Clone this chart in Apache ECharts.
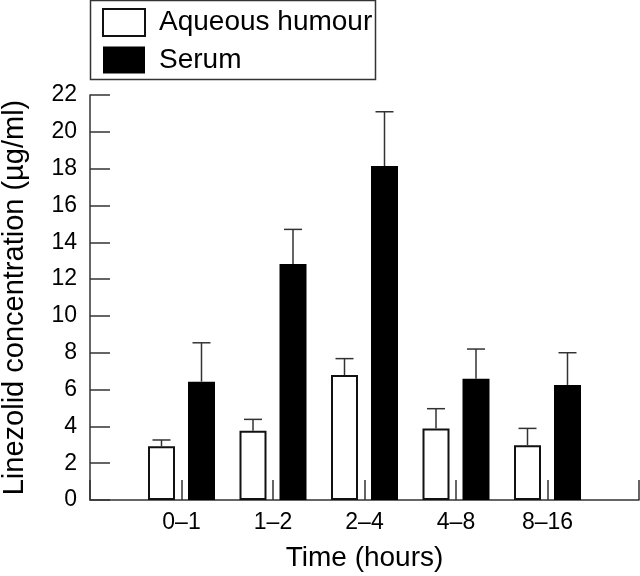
<!DOCTYPE html>
<html>
<head>
<meta charset="utf-8">
<script src="https://cdn.jsdelivr.net/npm/echarts@6/dist/echarts.min.js"></script>
<style>
  html, body { margin: 0; padding: 0; background: #fff; }
  #chart { width: 640px; height: 576px; }
</style>
</head>
<body>
<div id="chart"></div>
<script>
// time groups (empty ends give the axis its outer ticks)
const categories = ['', '0–1', '1–2', '2–4', '4–8', '8–16', ''];
const groups = ['0–1', '1–2', '2–4', '4–8', '8–16'];

// means and upper error (SD)
const aqueous = [2.92, 3.76, 6.79, 3.89, 2.97];
const aqueousSd = [0.34, 0.62, 0.89, 1.07, 0.92];
const serum = [6.43, 12.82, 18.14, 6.59, 6.25];
const serumSd = [2.11, 1.88, 2.95, 1.61, 1.75];

const yTicks = { min: 0, max: 22, interval: 2 };

const BAR_W = 27;
const BAR_GAP = 13;
const FONT = '"Liberation Sans", Arial, Helvetica, sans-serif';

const padded = (arr) => ['-', ...arr, '-'];

const errData = (means, sds) =>
  groups.map((g, i) => [i + 1, means[i], means[i] + sds[i]]);

const errSeries = (means, sds, side) => ({
  type: 'custom',
  z: 5,
  silent: true,
  data: errData(means, sds),
  renderItem: (params, api) => {
    const idx = api.value(0);
    const base = api.coord([idx, api.value(1)]);
    const top = api.coord([idx, api.value(2)]);
    const dx = side * (BAR_W + BAR_GAP) / 2;
    const x = base[0] + dx;
    const cap = 9;
    const style = { stroke: '#333', lineWidth: 1.5, fill: null };
    return {
      type: 'group',
      children: [
        { type: 'line', shape: { x1: x, y1: base[1], x2: x, y2: top[1] }, style },
        { type: 'line', shape: { x1: x - cap, y1: top[1], x2: x + cap, y2: top[1] }, style }
      ]
    };
  }
});

const chart = echarts.init(document.getElementById('chart'));
chart.setOption({
  backgroundColor: '#fff',
  animation: false,
  textStyle: { fontFamily: FONT, color: '#000' },
  grid: { left: 90, right: 1, top: 95, bottom: 76, outerBoundsMode: 'none', containLabel: false },
  legend: {
    orient: 'vertical',
    left: 102,
    top: 8,
    padding: 0,
    itemWidth: 42,
    itemHeight: 27,
    itemGap: 9,
    icon: 'rect',
    data: ['Aqueous humour', 'Serum'],
    textStyle: { fontSize: 28, color: '#000', fontFamily: FONT, padding: [0, 0, 0, 9] }
  },
  graphic: [{
    type: 'rect',
    shape: { x: 90.5, y: 0.5, width: 285, height: 79 },
    style: { fill: null, stroke: '#333', lineWidth: 1.5 },
    silent: true
  }],
  xAxis: {
    type: 'category',
    data: categories,
    boundaryGap: false,
    name: 'Time (hours)',
    nameLocation: 'middle',
    nameGap: 44,
    nameTextStyle: { fontSize: 28, color: '#000', fontFamily: FONT },
    axisLine: { lineStyle: { color: '#333', width: 1.5 } },
    axisTick: { inside: true, length: 20, lineStyle: { color: '#333', width: 1.5 } },
    axisLabel: { fontSize: 23, color: '#000', margin: 11, fontFamily: FONT },
    splitLine: { show: false }
  },
  yAxis: {
    type: 'value',
    min: yTicks.min,
    max: yTicks.max,
    interval: yTicks.interval,
    name: 'Linezolid concentration (µg/ml)',
    nameLocation: 'middle',
    nameGap: 61,
    nameTextStyle: { fontSize: 29, color: '#000', fontFamily: FONT },
    axisLine: { show: true, lineStyle: { color: '#333', width: 1.5 } },
    axisTick: { show: true, inside: true, length: 20, lineStyle: { color: '#333', width: 1.5 } },
    axisLabel: { fontSize: 23, color: '#000', margin: 13, fontFamily: FONT },
    splitLine: { show: false }
  },
  series: [
    {
      name: 'Aqueous humour',
      type: 'bar',
      data: padded(aqueous),
      barWidth: BAR_W,
      barGap: (BAR_GAP / BAR_W * 100) + '%',
      itemStyle: { color: '#fff', borderColor: '#111', borderWidth: 2 }
    },
    {
      name: 'Serum',
      type: 'bar',
      data: padded(serum),
      barWidth: BAR_W,
      itemStyle: { color: '#000' }
    },
    errSeries(aqueous, aqueousSd, -1),
    errSeries(serum, serumSd, 1)
  ]
});
</script>
</body>
</html>
